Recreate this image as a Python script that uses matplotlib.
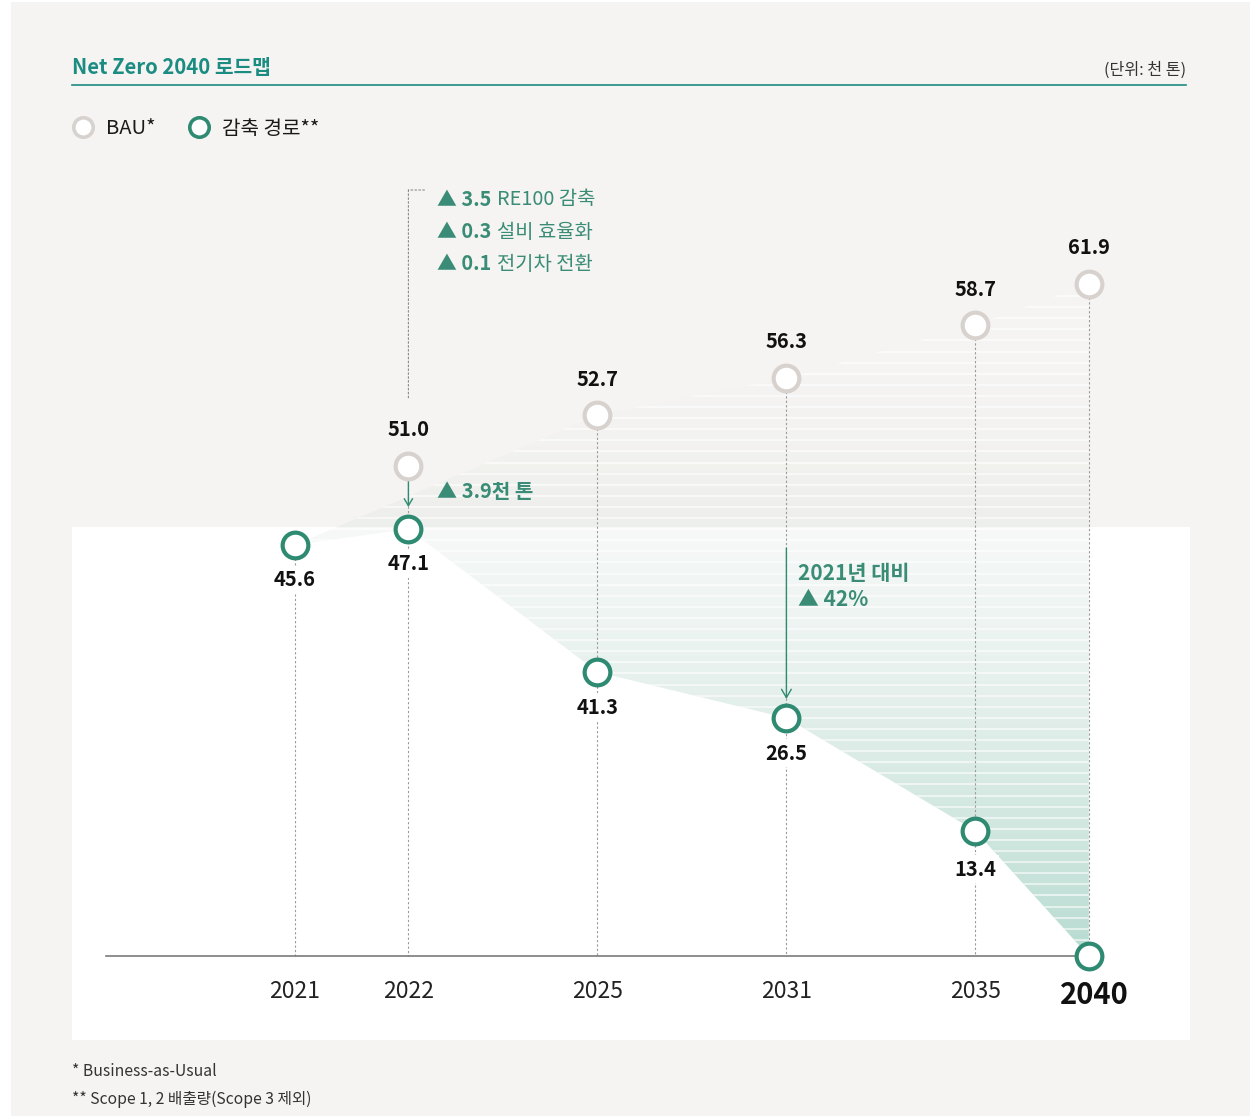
import numpy as np
import matplotlib.pyplot as plt
import matplotlib.transforms as mtransforms
from matplotlib.patches import Polygon, Rectangle
from matplotlib.collections import LineCollection
from matplotlib.lines import Line2D

plt.rcParams['font.family'] = ['Noto Sans CJK KR', 'DejaVu Sans']

# data (천 톤)
years = ['2021', '2022', '2025', '2031', '2035', '2040']
bau = [np.nan, 51.0, 52.7, 56.3, 58.7, 61.9]
reduction = [45.6, 47.1, 41.3, 26.5, 13.4, 0.0]
gap_2022 = '▲ 3.9천 톤'
breakdown_vals = ['3.5', '0.3', '0.1']
breakdown_names = ['RE100 감축', '설비 효율화', '전기차 전환']
vs_2021 = ['2021년 대비', '▲ 42%']

# column spacing of the infographic (not proportional to the years)
x_pos = [0, 0.6, 1.6, 2.6, 3.6, 4.2]
# the drawn value axis is not linear: value -> height knots
scale_vals = [-20, 0, 13.4, 26.5, 41.3, 45.6, 47.1, 51.0, 52.7, 56.3, 58.7, 61.9, 100]
scale_h = [-187, 0, 125, 238, 284, 411, 427, 490, 541, 578, 631, 672, 1160]

bg = '#f5f4f2'
green = '#2f8a72'
green_txt = '#3a8c76'
teal = '#1b8c82'
bau_edge = '#d8d2cf'

W, H = 1259, 1116
fig = plt.figure(figsize=(W / 100, H / 100), dpi=100, facecolor='white')


def fx(px):
    return px / W


def fy(py):
    return 1 - py / H


fig.patches.append(Rectangle((fx(11), fy(1116)), fx(1250) - fx(11), fy(2) - fy(1116),
                             transform=fig.transFigure, facecolor=bg, edgecolor='none', zorder=-3))
fig.patches.append(Rectangle((fx(72), fy(1040)), fx(1190) - fx(72), fy(527) - fy(1040),
                             transform=fig.transFigure, facecolor='white', edgecolor='none', zorder=-2))

ax = fig.add_axes([fx(72), fy(1040), fx(1190) - fx(72), fy(150) - fy(1040)])
ax.patch.set_visible(False)
ax.axis('off')


def fwd(v):
    return np.interp(v, scale_vals, scale_h)


def inv(h):
    return np.interp(h, scale_h, scale_vals)


ax.set_yscale('function', functions=(fwd, inv))
ax.set_xlim((72 - 295) / 189, (1190 - 295) / 189)
ax.set_ylim(inv(-84), inv(806))

# shaded gap between BAU and reduction path
upper = [(x_pos[0], reduction[0])] + [(x_pos[i], bau[i]) for i in range(2, 6)]
lower = [(x_pos[i], reduction[i]) for i in range(5, -1, -1)]
poly = Polygon(upper + lower, closed=True, facecolor='none', edgecolor='none', transform=ax.transData)
ax.add_patch(poly)

n = 500
py = 150 + np.linspace(0, 1, n) * 890
t = np.clip((py - 370) / (956 - 370), 0, 1)
c_top = np.array([205, 205, 200]) / 255
c_bot = np.array([60, 160, 130]) / 255
img = np.zeros((n, 1, 4))
img[:, 0, :3] = c_top * (1 - t[:, None]) + c_bot * t[:, None]
img[:, 0, 3] = 0.37 * t
im = ax.imshow(img, extent=[0, 1, 0, 1], transform=ax.transAxes, aspect='auto', zorder=1,
               interpolation='bilinear')
im.set_clip_path(poly)

stripes = []
for yy in np.arange(296, 956, 11.1):
    f = (1040 - yy) / 890
    stripes.append([(0, f), (1, f)])
lc = LineCollection(stripes, colors='white', linewidths=1.1, alpha=0.75, transform=ax.transAxes, zorder=2)
lc.set_clip_path(poly)
ax.add_collection(lc)

# guide lines
dots = (0, (2, 2))
for i, x in enumerate(x_pos):
    top = reduction[i] if np.isnan(bau[i]) else bau[i]
    ax.plot([x, x], [top, 0], color='#9a9a9a', lw=0.8, ls=dots, zorder=3)

ax.plot([x_pos[0] - 1.0, x_pos[-1]], [0, 0], color='#7a7a7a', lw=1.2, zorder=3)


def off(dx, dy):
    return mtransforms.offset_copy(ax.transData, fig=fig, x=dx, y=dy, units='dots')


# bracket above 2022
ax.annotate('', xy=(x_pos[1], bau[1]), xycoords=off(0, 66), xytext=(0, 210), textcoords='offset pixels',
            arrowprops=dict(arrowstyle='-', color='#8a8a8a', lw=0.8, ls=(0, (1.5, 2)), shrinkA=0, shrinkB=0))
ax.annotate('', xy=(x_pos[1], bau[1]), xycoords=off(0, 276), xytext=(16, 0), textcoords='offset pixels',
            arrowprops=dict(arrowstyle='-', color='#8a8a8a', lw=0.8, ls=(0, (1.5, 2)), shrinkA=0, shrinkB=0))

# markers
ax.plot(x_pos, bau, ls='none', marker='o', ms=18.5, mew=3, mfc='white', mec=bau_edge, zorder=5)
ax.plot(x_pos, reduction, ls='none', marker='o', ms=18.5, mew=3, mfc='white', mec=green, zorder=6)

# value labels
for i, x in enumerate(x_pos):
    if not np.isnan(bau[i]):
        ax.annotate(f'{bau[i]:.1f}', (x, bau[i]), xytext=(0, 36), textcoords='offset pixels',
                    ha='center', va='center', fontsize=14.5, fontweight='bold', color='#111111', zorder=7)
    if i < len(x_pos) - 1:
        dy = -38 if i == 4 else -35
        ax.annotate(f'{reduction[i]:.1f}', (x, reduction[i]), xytext=(0, dy), textcoords='offset pixels',
                    ha='center', va='center', fontsize=14.5, fontweight='bold', color='#111111', zorder=7,
                    bbox=dict(boxstyle='square,pad=0.15', fc='white', ec='none'))

# year labels
for i, x in enumerate(x_pos):
    if i == len(x_pos) - 1:
        ax.annotate(years[i], (x, 0), xytext=(6, -39), textcoords='offset pixels', ha='center', va='center',
                    fontsize=21, fontweight='bold', color='#111111')
    else:
        ax.annotate(years[i], (x, 0), xytext=(0, -36), textcoords='offset pixels', ha='center', va='center',
                    fontsize=16.5, color='#222222')

# 2022 gap arrow
ax.annotate('', xy=(x_pos[1], reduction[1]), xycoords=off(0, 22), xytext=(0, 47), textcoords='offset pixels',
            arrowprops=dict(arrowstyle='->,head_length=0.5,head_width=0.3', color=green, lw=1, shrinkA=0, shrinkB=0))
ax.annotate(gap_2022, (x_pos[1], bau[1]), xytext=(29, -25), textcoords='offset pixels', ha='left', va='center',
            fontsize=14.5, fontweight='bold', color=green_txt)

# breakdown list
for k, (v, name) in enumerate(zip(breakdown_vals, breakdown_names)):
    t1 = ax.annotate(f'▲ {v}', (x_pos[1], bau[1]), xytext=(29, 266 - 32 * k), textcoords='offset pixels',
                     ha='left', va='center', fontsize=14.3, fontweight='bold', color=green_txt)
    ax.annotate(name, xy=(1, 0.5), xycoords=t1, xytext=(5, 0), textcoords='offset pixels',
                ha='left', va='center', fontsize=14.3, color=green_txt)

# 2031 reduction arrow
ax.annotate('', xy=(x_pos[3], reduction[3]), xycoords=off(0, 19), xytext=(0, 151), textcoords='offset pixels',
            arrowprops=dict(arrowstyle='->,head_length=0.6,head_width=0.35', color=green, lw=1, shrinkA=0, shrinkB=0),
            zorder=4)
ax.annotate(vs_2021[0], (x_pos[3], reduction[3]), xytext=(12, 144), textcoords='offset pixels', ha='left',
            va='center', fontsize=15, fontweight='bold', color=green_txt)
ax.annotate(vs_2021[1], (x_pos[3], reduction[3]), xytext=(12, 118), textcoords='offset pixels', ha='left',
            va='center', fontsize=15, fontweight='bold', color=green_txt)

# header
fig.text(fx(72), fy(68), 'Net Zero 2040 로드맵', fontsize=14.6, fontweight='bold', color=teal, ha='left', va='center')
fig.text(fx(1186), fy(70), '(단위: 천 톤)', fontsize=11.6, color='#333333', ha='right', va='center')
fig.lines.append(Line2D([fx(72), fx(1186)], [fy(85), fy(85)], transform=fig.transFigure, color=teal, lw=1.2))

# legend
fig.lines.append(Line2D([fx(83)], [fy(127)], transform=fig.transFigure, marker='o', ms=14, mew=2.6,
                        mfc='white', mec=bau_edge, ls='none'))
fig.text(fx(106), fy(129), 'BAU*', fontsize=14.5, color='#1a1a1a', ha='left', va='center')
fig.lines.append(Line2D([fx(199)], [fy(127)], transform=fig.transFigure, marker='o', ms=14, mew=2.6,
                        mfc='white', mec=green, ls='none'))
fig.text(fx(222), fy(129), '감축 경로**', fontsize=14.5, color='#1a1a1a', ha='left', va='center')

# footnotes
fig.text(fx(72), fy(1072), '* Business-as-Usual', fontsize=11.3, color='#333333', ha='left', va='center')
fig.text(fx(72), fy(1099), '** Scope 1, 2 배출량(Scope 3 제외)', fontsize=11.3, color='#333333', ha='left',
         va='center')

fig.savefig('out.png', dpi=100, facecolor='white')
